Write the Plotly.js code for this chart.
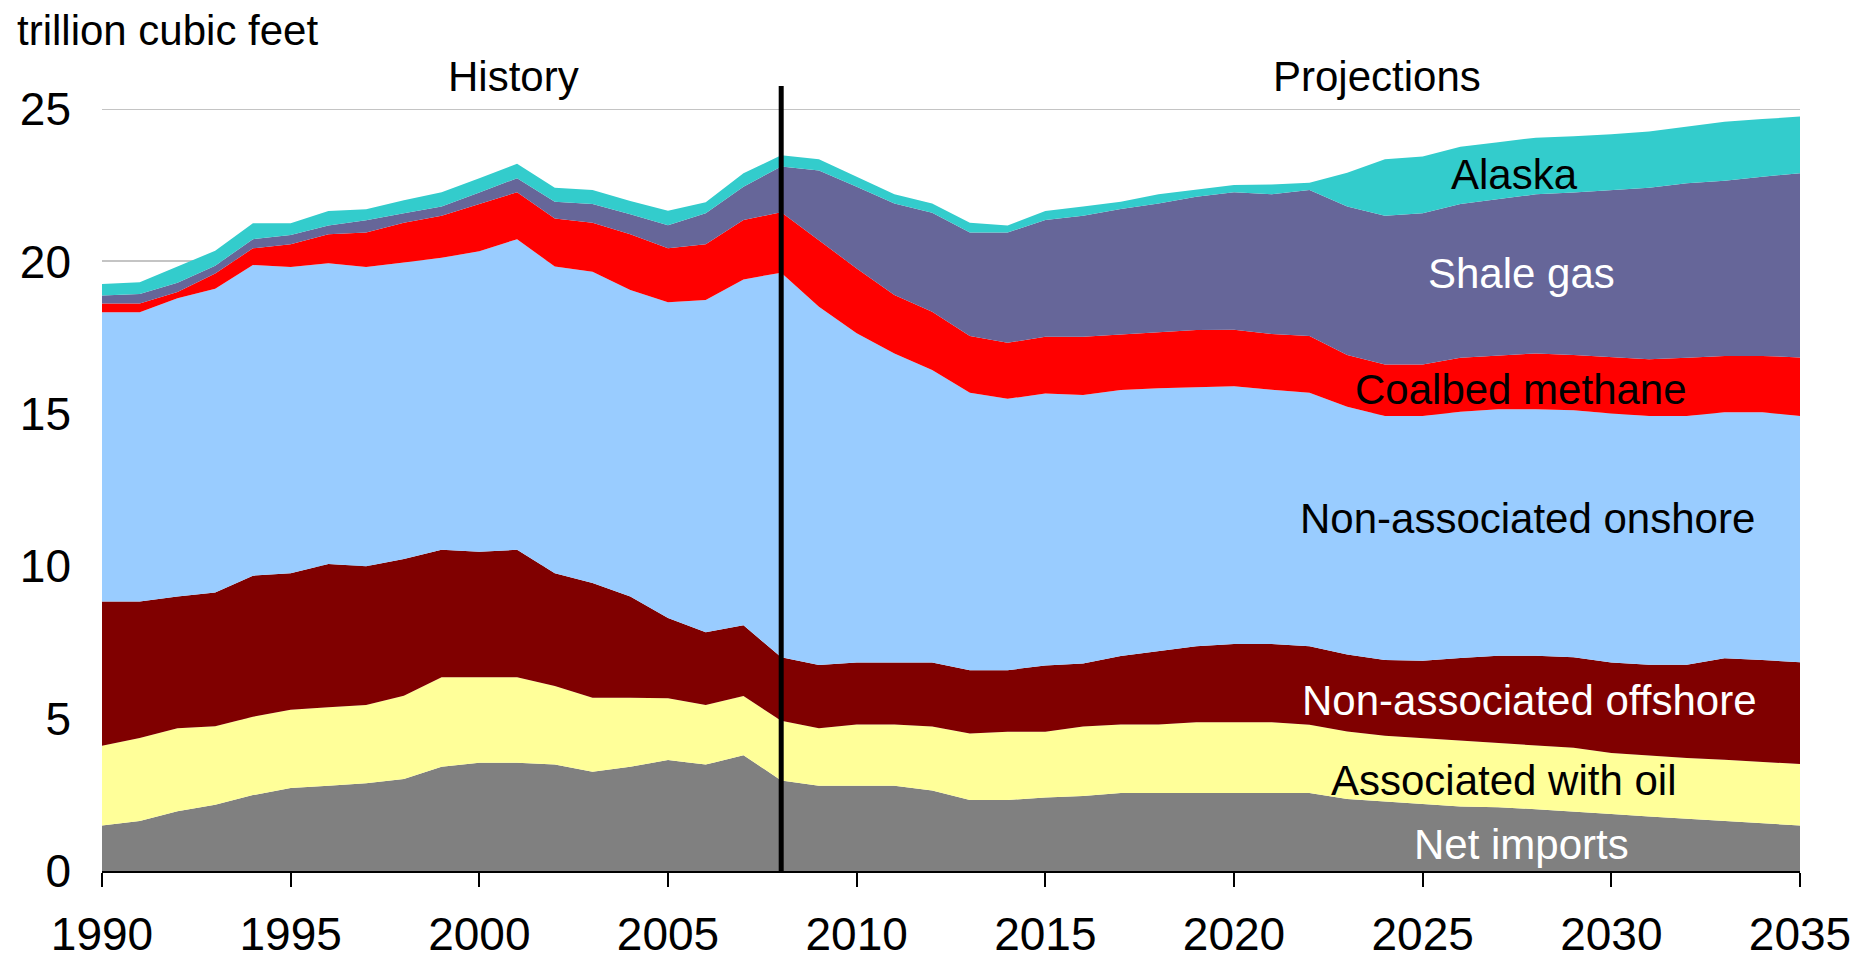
<!DOCTYPE html>
<html><head><meta charset="utf-8">
<script src="https://cdn.plot.ly/plotly-3.0.1.min.js"></script>
<style>html,body{margin:0;padding:0;background:#fff}#chart{width:1873px;height:964px}</style>
</head><body><div id="chart"></div>
<script>
const years = [1990,1991,1992,1993,1994,1995,1996,1997,1998,1999,2000,2001,2002,2003,2004,2005,2006,2007,2008,2009,2010,2011,2012,2013,2014,2015,2016,2017,2018,2019,2020,2021,2022,2023,2024,2025,2026,2027,2028,2029,2030,2031,2032,2033,2034,2035];
const netImports = [1.49,1.64,1.96,2.17,2.49,2.72,2.80,2.88,3.02,3.42,3.55,3.55,3.49,3.26,3.42,3.64,3.49,3.80,2.97,2.80,2.80,2.80,2.64,2.33,2.33,2.41,2.46,2.56,2.56,2.56,2.56,2.56,2.56,2.36,2.27,2.20,2.12,2.09,2.03,1.96,1.87,1.79,1.71,1.63,1.56,1.49];
const associatedWithOil = [2.62,2.72,2.72,2.58,2.57,2.57,2.57,2.57,2.73,2.94,2.81,2.81,2.58,2.42,2.26,2.03,1.96,1.94,1.96,1.88,2.01,2.01,2.10,2.18,2.24,2.16,2.28,2.25,2.25,2.32,2.32,2.32,2.24,2.22,2.17,2.16,2.16,2.11,2.08,2.08,2.00,1.99,2.00,2.02,2.03,2.02];
const nonAssocOffshore = [4.73,4.48,4.33,4.39,4.63,4.48,4.70,4.55,4.49,4.18,4.11,4.18,3.70,3.77,3.33,2.63,2.38,2.32,2.08,2.08,2.03,2.03,2.10,2.08,2.02,2.17,2.07,2.24,2.40,2.49,2.57,2.57,2.57,2.52,2.48,2.54,2.71,2.86,2.95,2.97,2.97,2.99,3.06,3.33,3.33,3.34];
const nonAssocOnshore = [9.49,9.49,9.78,9.96,10.19,10.05,9.87,9.82,9.72,9.58,9.86,10.19,10.06,10.21,10.05,10.36,10.90,11.35,12.62,11.75,10.80,10.14,9.60,9.10,8.90,8.93,8.81,8.73,8.63,8.49,8.45,8.34,8.32,8.13,8.01,8.03,8.08,8.09,8.09,8.11,8.17,8.16,8.16,8.07,8.13,8.08];
const coalbedMethane = [0.29,0.29,0.21,0.50,0.55,0.74,0.95,1.13,1.31,1.38,1.55,1.54,1.58,1.61,1.83,1.77,1.83,1.95,1.98,2.19,2.13,1.92,1.91,1.86,1.84,1.86,1.91,1.82,1.83,1.89,1.86,1.83,1.86,1.70,1.69,1.69,1.77,1.77,1.83,1.81,1.84,1.86,1.91,1.85,1.85,1.92];
const shaleGas = [0.26,0.31,0.30,0.26,0.30,0.31,0.29,0.40,0.31,0.30,0.38,0.46,0.55,0.61,0.66,0.76,1.02,1.09,1.50,2.28,2.68,3.00,3.25,3.40,3.62,3.83,3.97,4.12,4.23,4.37,4.51,4.58,4.79,4.87,4.88,4.96,5.04,5.13,5.22,5.33,5.49,5.63,5.72,5.75,5.88,6.04];
const alaska = [0.38,0.39,0.53,0.49,0.52,0.38,0.47,0.36,0.43,0.47,0.47,0.47,0.46,0.46,0.43,0.47,0.36,0.44,0.37,0.37,0.33,0.30,0.30,0.32,0.23,0.29,0.30,0.24,0.30,0.24,0.24,0.32,0.24,1.11,1.85,1.86,1.88,1.86,1.86,1.85,1.83,1.84,1.86,1.93,1.89,1.86];

const seriesNames = ["Net imports","Associated with oil","Non-associated offshore","Non-associated onshore","Coalbed methane","Shale gas","Alaska"];
const seriesColors = ["#808080","#FFFF99","#800000","#99CCFF","#FF0000","#666699","#33CCCC"];
const seriesData = [netImports,associatedWithOil,nonAssocOffshore,nonAssocOnshore,coalbedMethane,shaleGas,alaska];

const traces = seriesData.map((d,i)=>({
  x: years, y: d, name: seriesNames[i], type:'scatter', mode:'lines',
  stackgroup:'one', line:{width:0, color:seriesColors[i]}, fillcolor:seriesColors[i],
  hoverinfo:'x+y+name'
}));

const FONT = '"Liberation Sans", Arial, sans-serif';
const L=101.5, R=1800, T=109, B=871;
function px(x){return (x-L)/(R-L);}
function py(y){return (B-y)/(B-T);}

const labels = [
  {text:"trillion cubic feet", x:14, y:30, anchor:'left', color:'#000'},
  {text:"History", x:513, y:76, anchor:'center', color:'#000'},
  {text:"Projections", x:1377, y:76, anchor:'center', color:'#000'},
  {text:"Alaska", x:1514, y:175, anchor:'center', color:'#000'},
  {text:"Shale gas", x:1521, y:273, anchor:'center', color:'#fff'},
  {text:"Coalbed methane", x:1521, y:389, anchor:'center', color:'#000'},
  {text:"Non-associated onshore", x:1527, y:518, anchor:'center', color:'#000'},
  {text:"Non-associated offshore", x:1529, y:700, anchor:'center', color:'#fff'},
  {text:"Associated with oil", x:1504, y:780, anchor:'center', color:'#000'},
  {text:"Net imports", x:1521, y:844, anchor:'center', color:'#fff'}
];

const layout = {
  width:1873, height:964,
  margin:{l:L, r:1873-R, t:T, b:964-B, pad:0},
  paper_bgcolor:'#fff', plot_bgcolor:'#fff',
  showlegend:false,
  font:{family:FONT, color:'#000'},
  xaxis:{range:[1990,2035], tickvals:[1990,1995,2000,2005,2010,2015,2020,2025,2030,2035],
    ticks:'outside', ticklen:14, tickwidth:2, tickcolor:'#000',
    showline:true, linecolor:'#000', linewidth:2, showgrid:false, zeroline:false,
    tickfont:{family:FONT, size:46, color:'#000'}, ticklabelstandoff:8},
  yaxis:{range:[0,25], tickvals:[0,5,10,15,20,25], ticks:'', showline:false,
    showgrid:true, gridcolor:'#c4c4c4', gridwidth:2, zeroline:false,
    tickfont:{family:FONT, size:46, color:'#000'}, ticklabelstandoff:30},
  shapes:[
    {type:'line', xref:'paper', yref:'y', x0:0, x1:1, y0:25, y1:25,
     line:{color:'#c4c4c4', width:2}, layer:'below'},
    {type:'line', xref:'x', yref:'paper', x0:2008, x1:2008, y0:0, y1:py(86),
     line:{color:'#000', width:5}, layer:'above'}],
  annotations: labels.map(a=>({text:a.text, xref:'paper', yref:'paper', x:px(a.x), y:py(a.y),
    xanchor:a.anchor, yanchor:'middle', showarrow:false, font:{family:FONT, size:42, color:a.color}}))
};

Plotly.newPlot('chart', traces, layout, {displayModeBar:false});
</script></body></html>
